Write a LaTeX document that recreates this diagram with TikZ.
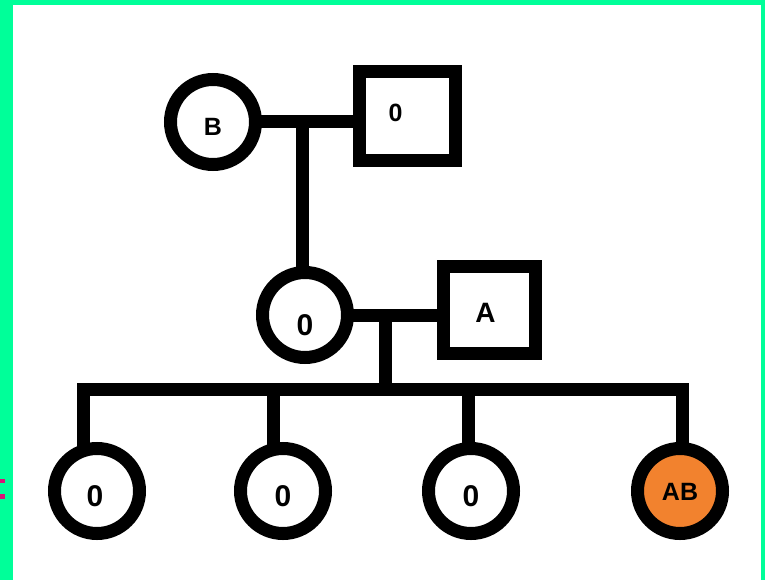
\documentclass[tikz,border=0pt]{standalone}
\usepackage{fontspec}
\setmainfont{Liberation Sans}
\usetikzlibrary{backgrounds}
\definecolor{bordergreen}{RGB}{0,255,153}
\definecolor{orangefill}{RGB}{242,130,46}
\definecolor{pinkmark}{RGB}{215,20,120}
\begin{document}
\begin{tikzpicture}[x=1pt,y=-1pt,
  fem/.style={circle, draw=black, line width=13pt, fill=white, minimum size=85pt, inner sep=0pt},
  male/.style={rectangle, draw=black, line width=13pt, fill=white, inner sep=0pt},
  conn/.style={draw=black, line width=13pt, line join=miter},
  txt/.style={font=\bfseries\fontsize{25}{29}\selectfont, text=black, inner sep=0pt},
  bigtxt/.style={font=\bfseries\fontsize{30}{34}\selectfont, text=black, inner sep=0pt},
  atxt/.style={font=\bfseries\fontsize{28}{32}\selectfont, text=black, inner sep=0pt}]
\useasboundingbox (0,0) rectangle (765,580);

% persons
\node[fem, label={[txt,yshift=-5pt]center:B}] (gm) at (213,122) {};
\node[male, minimum width=96pt, minimum height=89pt,
      label={[txt,xshift=-12pt,yshift=3pt]center:0}] (gf) at (407.5,116) {};
\node[fem, label={[bigtxt,yshift=-10pt]center:0}] (mo) at (305,315) {};
\node[male, minimum width=92pt, minimum height=87pt,
      label={[atxt,xshift=-4pt,yshift=-3pt]center:A}] (fa) at (489.5,310) {};
\node[fem, label={[bigtxt,xshift=-2pt,yshift=-5pt]center:0}] (c1) at (97,491) {};
\node[fem, label={[bigtxt,yshift=-5pt]center:0}] (c2) at (283,491) {};
\node[fem, label={[bigtxt,yshift=-5pt]center:0}] (c3) at (471,491) {};
\node[fem, fill=orangefill, label={[txt,yshift=-1pt]center:AB}] (c4) at (680,491) {};

\coordinate (j1) at (302,122);
\coordinate (j2) at (385,315);
\coordinate (d1) at (83,389);
\coordinate (d2) at (273,389);
\coordinate (d3) at (468,389);
\coordinate (d4) at (682,389);

\begin{scope}[on background layer]
  \fill[bordergreen] (0,0) rectangle (765,580);
  \fill[white] (13,5) rectangle (761,580);
  \fill[pinkmark] (0,479) rectangle (5,483);
  \fill[pinkmark] (0,494) rectangle (5,499);
  % connectors
  \draw[conn] (gm.center) -- (gm.center -| gf.center);
  \draw[conn] (j1) -- (j1 |- mo.center);
  \draw[conn] (mo.center) -- (mo.center -| fa.center);
  \draw[conn] (j2) -- (j2 |- d1);
  \draw[conn] (d1 |- c1.center) -- (d1) -- (d4) -- (d4 |- c4.center);
  \draw[conn] (d2) -- (d2 |- c2.center);
  \draw[conn] (d3) -- (d3 |- c3.center);
\end{scope}
\end{tikzpicture}
\end{document}
